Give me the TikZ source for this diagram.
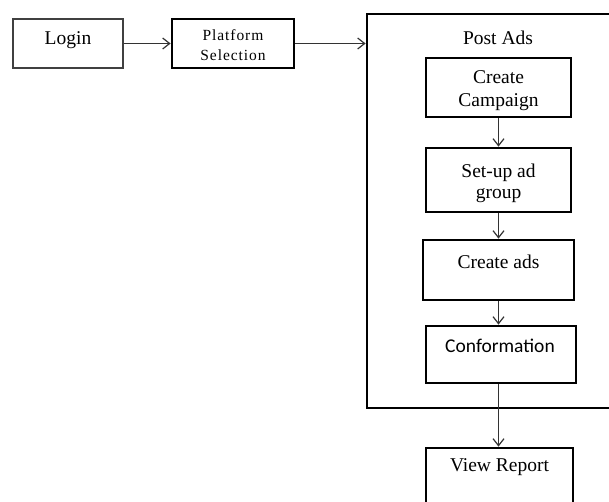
\documentclass[tikz,border=0pt]{standalone}
\usepackage{fontspec}
\setmainfont{Liberation Serif}
\newfontfamily\calibrilike{Carlito}
\newfontfamily\widerserif[LetterSpace=6]{Liberation Serif}
\usetikzlibrary{arrows.meta}
\begin{document}
\begin{tikzpicture}[x=1pt,y=-1pt,
  box/.style={draw=black, line width=2.8pt, minimum width=#1, inner sep=0pt},
  lbl/.style={anchor=base, inner sep=0pt, font=\fontsize{19.5}{23}\selectfont, align=center},
  flow/.style={draw=black!80, line width=1.3pt, -{Straight Barb[length=7pt,width=11pt,line width=1.2pt]}}]
\useasboundingbox (0,0) rectangle (609,501);
\begin{scope}
\clip (0,0) rectangle (609,501);
% top row
\node[box=110pt, draw=black!75, minimum height=49pt] (login) at (68,43.5) {};
\node[box=122pt, minimum height=49pt] (plat) at (233,43.5) {};
% frame around the ad posting steps
\node[box=273pt, minimum height=394pt] (post) at (503.5,211) {};
\node[lbl] (postlbl) at (498,44) {Post Ads};
% steps inside the frame
\node[box=145pt, minimum height=59pt] (camp) at (498.5,87.5) {};
\node[box=145pt, minimum height=64pt] (group) at (498.5,180) {};
\node[box=151pt, minimum height=60pt] (ads) at (498.5,270) {};
\node[box=150pt, minimum height=57pt] (conf) at (501,354.5) {};
% final report
\node[box=147pt, minimum height=72pt] (report) at (499.5,484) {};
% labels (multi-line labels are placed by the baseline of their last line)
\node[lbl] (loginlbl) at (68,44) {Login};
\node[lbl, font=\widerserif\fontsize{15.5}{20}\selectfont] (platlbl) at (233,60) {Platform\\Selection};
\node[lbl] (camplbl) at (498.5,106) {Create\\Campaign};
\node[lbl, font=\fontsize{19.5}{21}\selectfont] (grouplbl) at (498.5,198) {Set-up ad\\group};
\node[lbl] (adslbl) at (498.5,268) {Create ads};
\node[lbl, font=\calibrilike\fontsize{19.5}{23}\selectfont] (conflbl) at (500,352) {Conformation};
\node[lbl] (reportlbl) at (499.5,471) {View Report};
% connectors
\draw[flow] (login.east) -- (plat.west);
\draw[flow] (plat.east) -- (plat.east -| post.west);
\draw[flow] (camp.south) -- (camp.south |- group.north);
\draw[flow] (group.south) -- (group.south |- ads.north);
\draw[flow] (ads.south) -- (ads.south |- conf.north);
\draw[flow] (conf.south -| ads.south) -- (ads.south |- report.north);
\end{scope}
\end{tikzpicture}
\end{document}
